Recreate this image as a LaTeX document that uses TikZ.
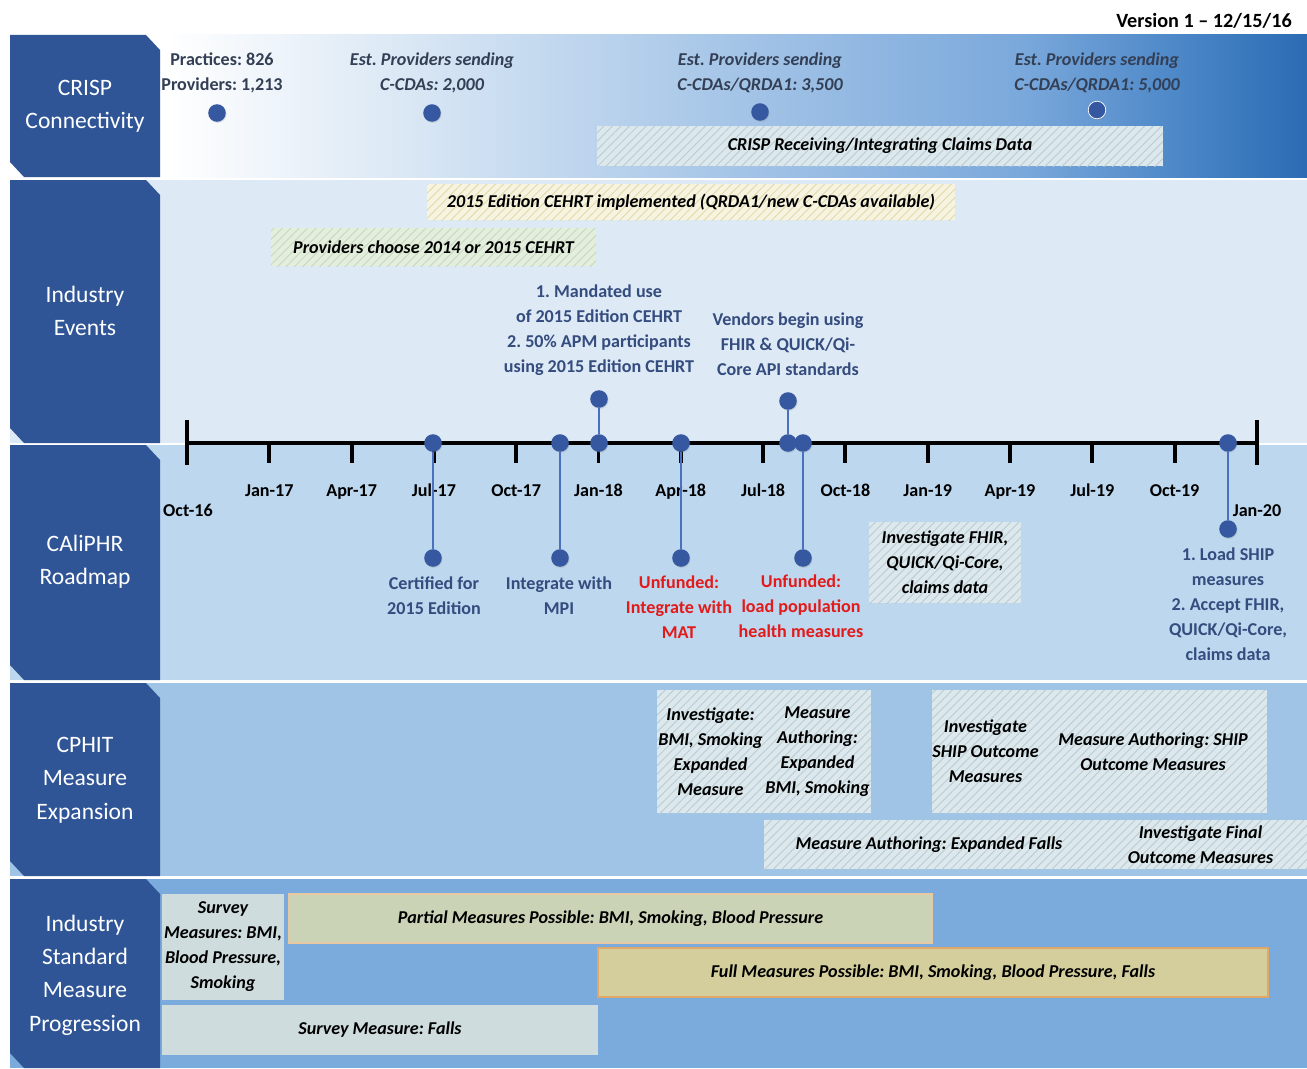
\documentclass[tikz,border=0pt]{standalone}
\usepackage{fontspec}
\setmainfont{Carlito}
\usetikzlibrary{patterns.meta, shadows}
\frenchspacing

\definecolor{lanefill}{HTML}{2F5597}
\definecolor{rowtwo}{HTML}{DDE9F5}
\definecolor{rowthree}{HTML}{BDD7EE}
\definecolor{rowfour}{HTML}{A0C4E6}
\definecolor{rowfive}{HTML}{7AABDC}
\definecolor{dotblue}{HTML}{3558A0}
\definecolor{stemblue}{HTML}{4A70C0}
\definecolor{slate}{HTML}{344C7E}
\definecolor{crisptext}{HTML}{333F55}
\definecolor{alert}{HTML}{E31A1A}
\definecolor{hatchbg}{HTML}{DCE8EC}
\definecolor{hatchln}{HTML}{B8CCD4}
\definecolor{yellowbg}{HTML}{F6F4E0}
\definecolor{yellowln}{HTML}{E2D9A8}
\definecolor{greenbg}{HTML}{E4EEDD}
\definecolor{greenln}{HTML}{C5D8BC}
\definecolor{surveybg}{HTML}{CFDCDE}
\definecolor{partialbg}{HTML}{CBD3B6}
\definecolor{partialln}{HTML}{E8C8A0}
\definecolor{fullbg}{HTML}{D3CE9C}
\definecolor{fullln}{HTML}{E0A868}

% gradient of the connectivity row (path spans 25bp to 75bp)
\pgfdeclarehorizontalshading{crispshade}{100bp}{
  rgb(0bp)=(1,1,1); rgb(31bp)=(1,1,1); rgb(40bp)=(0.86,0.91,0.96);
  rgb(52bp)=(0.66,0.78,0.91); rgb(64bp)=(0.48,0.66,0.86);
  rgb(71bp)=(0.27,0.51,0.77); rgb(75bp)=(0.17,0.42,0.70); rgb(100bp)=(0.17,0.42,0.70)}

\newcommand\txtfont{\fontsize{10.3}{14.2}\selectfont\bfseries}
\newcommand\boxfont{\fontsize{10.3}{14.2}\selectfont\bfseries\itshape}
\newcommand\lanefont{\fontsize{13.4}{19}\selectfont}

\tikzset{
  wh/.style 2 args={minimum width=#1*0.02cm, minimum height=#2*0.02cm},
  lanetext/.style={text=white, font=\lanefont, align=center},
  evtext/.style={text=slate, font=\txtfont, align=center},
  redtext/.style={text=alert, font=\txtfont, align=center},
  crisp/.style={text=crisptext, font=\txtfont, align=center},
  month/.style={text=black, font=\txtfont, anchor=base},
  dot/.style={circle, fill=dotblue, inner sep=0, minimum size=10pt,
    drop shadow={opacity=0.25, shadow xshift=0.4pt, shadow yshift=-0.6pt}},
  stem/.style={draw=stemblue, line width=1.1pt},
  hatch/.style 2 args={inner sep=0, align=center, font=\boxfont,
    preaction={fill=#1},
    pattern={Lines[angle=45, distance=3.4pt, line width=0.5pt]}, pattern color=#2},
  plainbox/.style={inner sep=0, align=center, font=\boxfont, fill=#1},
}

\begin{document}
\begin{tikzpicture}[x=0.02cm, y=-0.02cm]
\useasboundingbox (0,0) rectangle (1307,1068);

% rows
\shade[shading=crispshade] (10,35) rectangle (1307,177);
\fill[rowtwo] (10,180) rectangle (1307,443);
\fill[rowthree] (10,445) rectangle (1307,680);
\fill[rowfour] (10,683) rectangle (1307,876);
\fill[rowfive] (10,879) rectangle (1307,1068);

% lane labels
\foreach \top/\bot in {35/177, 180/443, 445/680, 683/876, 879/1068}
  \fill[lanefill] (10,\top) -- (146,\top) -- (160,\top+15) -- (160,\bot)
    -- (24,\bot) -- (10,\bot-15) -- cycle;
\node[lanetext] (lcrisp) at (85,106) {CRISP\\Connectivity};
\node[lanetext] (levents) at (85,311) {Industry\\Events};
\node[lanetext] (lroad) at (85,562) {CAliPHR\\Roadmap};
\node[lanetext] (lcphit) at (85,780) {CPHIT\\Measure\\Expansion};
\node[lanetext] (lstd) at (85,975) {Industry\\Standard\\Measure\\Progression};

\node[font=\fontsize{11.5}{14}\selectfont\bfseries, anchor=east] (version) at (1298,21) {Version 1 -- 12/15/16};

% CRISP connectivity
\node[crisp] (prac) at (222,73) {Practices: 826\\Providers: 1,213};
\node[crisp, font=\boxfont] (est1) at (432,73) {Est. Providers sending\\C-CDAs: 2,000};
\node[crisp, font=\boxfont] (est2) at (760,73) {Est. Providers sending\\C-CDAs/QRDA1: 3,500};
\node[crisp, font=\boxfont] (est3) at (1097,73) {Est. Providers sending\\C-CDAs/QRDA1: 5,000};
\node[dot] (c1) at (217,113) {};
\node[dot] (c2) at (432,113) {};
\node[dot] (c3) at (760,112) {};
\node[dot, draw=white!60, line width=0.4pt] (c4) at (1097,110) {};
\node[hatch={hatchbg}{hatchln}, wh={566}{40}] (claims) at (880,146) {CRISP Receiving/Integrating Claims Data};

% industry events
\node[hatch={yellowbg}{yellowln}, wh={528}{36}] (cehrt) at (691,202) {2015 Edition CEHRT implemented (QRDA1/new C-CDAs available)};
\node[hatch={greenbg}{greenln}, wh={325}{38}] (choose) at (433.5,247) {Providers choose 2014 or 2015 CEHRT};
\node[evtext] (mandate) at (599,330) {1. Mandated use\\of 2015 Edition CEHRT\\2. 50\% APM participants\\using 2015 Edition CEHRT};
\node[evtext] (vendors) at (788,344) {Vendors begin using\\FHIR \& QUICK/Qi-\\Core API standards};

% timeline
\coordinate (tstart) at (187,443);
\coordinate (tend) at (1257,443);
\draw[line width=2.8pt] (tstart) -- (tend);
\draw[line width=2.5pt] (187,420) -- (187,465);
\draw[line width=2.5pt] (1257,420) -- (1257,465);
\foreach \m [count=\i] in {Jan-17,Apr-17,Jul-17,Oct-17,Jan-18,Apr-18,Jul-18,Oct-18,Jan-19,Apr-19,Jul-19,Oct-19} {
  \draw[line width=2.2pt] (187+82.3*\i,443) -- ++(0,20);
  \node[month] (m\i) at (187+82.3*\i,496) {\m};
}
\node[month] (moct) at (188,516) {Oct-16};
\node[month] (mjan) at (1257,516) {Jan-20};

% milestones on the axis
\node[dot] (a1) at (433,443) {};
\node[dot] (a2) at (560,443) {};
\node[dot] (a3) at (599,443) {};
\node[dot] (a4) at (681,443) {};
\node[dot] (a5) at (788,443) {};
\node[dot] (a6) at (803,443) {};
\node[dot] (a7) at (1228,443) {};
\node[dot] (e1) at (599,399) {};
\node[dot] (e2) at (788,401) {};
\node[dot] (r1) at (433,558) {};
\node[dot] (r2) at (560,558) {};
\node[dot] (r3) at (681,558) {};
\node[dot] (r4) at (803,558) {};
\node[dot] (r5) at (1228,529) {};
\draw[stem] (e1) -- (a3);
\draw[stem] (e2) -- (a5);
\draw[stem] (a1) -- (r1);
\draw[stem] (a2) -- (r2);
\draw[stem] (a4) -- (r3);
\draw[stem] (a6) -- (r4);
\draw[stem] (a7) -- (r5);

% CAliPHR roadmap
\node[evtext] (cert) at (434,596) {Certified for\\2015 Edition};
\node[evtext] (mpi) at (559,596) {Integrate with\\MPI};
\node[redtext] (mat) at (679,607.5) {Unfunded:\\Integrate with\\MAT};
\node[redtext] (pop) at (801,606.5) {Unfunded:\\load population\\health measures};
\node[hatch={hatchbg}{hatchln}, wh={152}{81}] (invfhir) at (945,562.5) {Investigate FHIR,\\QUICK/Qi-Core,\\claims data};
\node[evtext] (ship) at (1228,604.5) {1. Load SHIP\\measures\\2. Accept FHIR,\\QUICK/Qi-Core,\\claims data};

% CPHIT measure expansion
\node[hatch={hatchbg}{hatchln}, wh={107}{123}] (inv1) at (710.5,751.5) {Investigate:\\BMI, Smoking\\Expanded\\Measure};
\node[hatch={hatchbg}{hatchln}, wh={107}{123}] (auth1) at (817.5,751.5) {Measure\\Authoring:\\Expanded\\BMI, Smoking};
\node[hatch={hatchbg}{hatchln}, wh={107}{123}] (inv2) at (985.5,751.5) {Investigate\\SHIP Outcome\\Measures};
\node[hatch={hatchbg}{hatchln}, wh={228}{123}] (auth2) at (1153,751.5) {Measure Authoring: SHIP\\Outcome Measures};
\node[hatch={hatchbg}{hatchln}, wh={330}{49}] (falls) at (929,844.5) {Measure Authoring: Expanded Falls};
\node[hatch={hatchbg}{hatchln}, wh={213}{49}] (final) at (1200.5,844.5) {Investigate Final\\Outcome Measures};

% industry standard measure progression
\node[plainbox=surveybg, wh={122}{106}] (survey) at (223,947) {Survey\\Measures: BMI,\\Blood Pressure,\\Smoking};
\node[plainbox=partialbg, draw=partialln, line width=0.8pt, wh={643}{49}] (partial) at (610.5,918.5) {Partial Measures Possible: BMI, Smoking, Blood Pressure};
\node[plainbox=fullbg, draw=fullln, line width=0.8pt, wh={670}{49}] (full) at (933,972.5) {Full Measures Possible: BMI, Smoking, Blood Pressure, Falls};
\node[plainbox=surveybg, wh={436}{50}] (sfalls) at (380,1030) {Survey Measure: Falls};
\end{tikzpicture}
\end{document}
